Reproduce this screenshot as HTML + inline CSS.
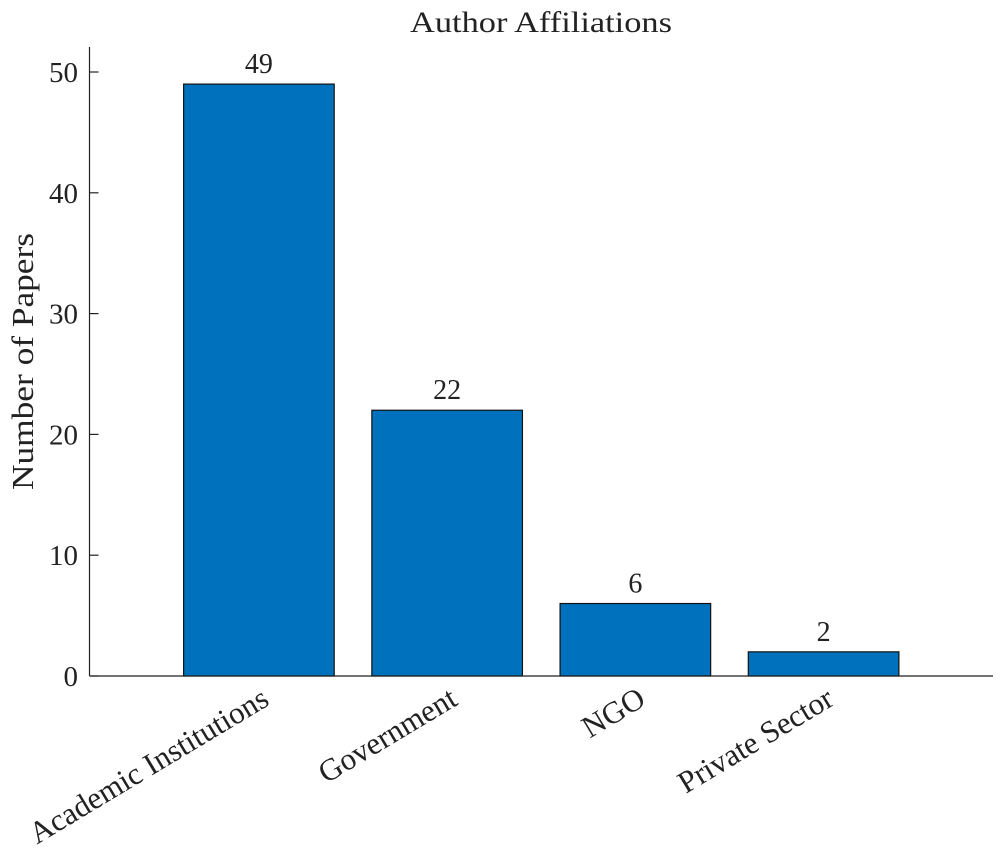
<!DOCTYPE html>
<html><head><meta charset="utf-8"><style>
body{margin:0;background:#fff}
svg text{font-family:"Liberation Serif",serif;fill:#222}
</style></head><body>
<svg id="chart" width="1003" height="857">
<text x="410" y="32" font-size="30" textLength="262" lengthAdjust="spacingAndGlyphs">Author Affiliations</text>
<text transform="translate(33,490) rotate(-90)" font-size="31" textLength="257" lengthAdjust="spacingAndGlyphs">Number of Papers</text>
<g id="plot"></g>
</svg>
<script>
const categories=["Academic Institutions","Government","NGO","Private Sector"];
const values=[49,22,6,2];
const yTicks=[0,10,20,30,40,50];
const X0=89.5,X1=993,Y0=676,Y1=47,xmin=0.1,xmax=4.9,ymax=52.07;
const ns="http://www.w3.org/2000/svg";
const g=document.getElementById('plot');
function xs(v){return X0+(v-xmin)/(xmax-xmin)*(X1-X0);}
function ys(v){return Y0-v/ymax*(Y0-Y1);}
function mk(t,a){const e=document.createElementNS(ns,t);for(const k in a)e.setAttribute(k,a[k]);g.appendChild(e);return e;}
const bw=0.8*(xs(2)-xs(1));
values.forEach((v,i)=>{
  const cx=xs(i+1);
  const r=mk('rect',{x:cx-bw/2,y:ys(v),width:bw,height:ys(0)-ys(v),fill:'#0072BD',stroke:'#111','stroke-width':1.2});
  
  
  const t=mk('text',{x:cx,y:ys(v)-11,'font-size':28,'text-anchor':'middle'});t.textContent=v;
  
  
  const l=mk('text',{x:cx+12,y:704,'font-size':31,'text-anchor':'end',transform:`rotate(-31 ${cx+12} 704)`});l.textContent=categories[i];
  
  
});
yTicks.forEach(v=>{
  const y=ys(v);
  const tk=mk('line',{x1:X0,x2:X0+9,y1:y,y2:y,stroke:'#222','stroke-width':1.2});
  
  
  const t=mk('text',{x:78,y:y+10,'font-size':29,'text-anchor':'end'});t.textContent=v;
  
  
});
const ya=mk('line',{x1:X0,x2:X0,y1:Y1,y2:Y0,stroke:'#222','stroke-width':1.2});


const xa=mk('line',{x1:X0,x2:X1,y1:Y0,y2:Y0,stroke:'#222','stroke-width':1.2});


</script>
</body></html>
